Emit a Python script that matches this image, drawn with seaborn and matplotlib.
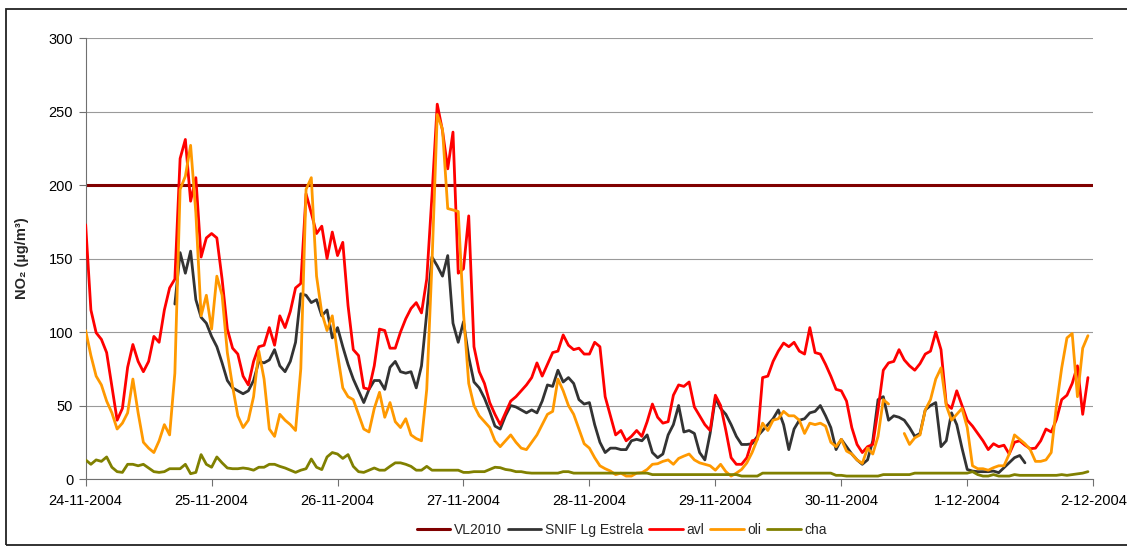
import numpy as np
import pandas as pd
import matplotlib
matplotlib.use('Agg')
import matplotlib.pyplot as plt
import matplotlib.patches as mpatches
from matplotlib.lines import Line2D
import seaborn as sns

nan = np.nan

# hourly NO2 values, 24-11-2004 00h .. 1-12-2004 23h
start = '2004-11-24 00:00'
end = '2004-12-02 00:00'
tick_labels = ['24-11-2004', '25-11-2004', '26-11-2004', '27-11-2004', '28-11-2004',
               '29-11-2004', '30-11-2004', '1-12-2004', '2-12-2004']

VL2010 = 200

snif = [nan, nan, nan, nan, nan, nan, nan, nan, nan, nan, nan, nan, nan, nan, nan, nan, nan,
        119, 154, 140, 155, 122, 110, 106,
        97, 90, 79, 67, 62, 60, 58, 60, 67, 80, 79, 81, 88, 77, 73, 80, 93, 126, 125, 120, 122, 111, 115, 96,
        103, 90, 78, 68, 60, 52, 61, 67, 67, 61, 76, 80, 73, 72, 73, 62, 77, 113, 151, 145, 138, 152, 106, 93,
        107, 83, 66, 62, 55, 46, 36, 34, 43, 50, 49, 47, 45, 47, 45, 53, 64, 63, 74, 66, 69, 65, 54, 51,
        52, 37, 25, 18, 21, 21, 20, 20, 26, 27, 26, 30, 18, 14.5, 17, 30, 37, 50, 32, 33, 31, 18, 13, 31,
        55, 48, 44, 37, 29, 23.5, 23.5, 24, 29, 33, 37, 41, 47, 37, 20, 34, 40, 41, 45, 46, 50, 43, 35, 20,
        27, 22, 17, 13, 10, 13, 26, 54, 56, 40, 43, 42, 40, 35, 29, 31, 47, 50, 52, 22, 26, 45, 37, 21,
        6.5, 5.4, 5, 5, 5, 5.4, 4.3, 7.7, 11, 14.5, 16, 11,
        nan, nan, nan, nan, nan, nan, nan, nan, nan, nan, nan, nan]

avl = [173, 115, 99.5, 95, 86, 63, 40, 48, 76, 91.5, 80, 73, 80, 97, 93, 115, 130, 136, 218, 231, 189, 205, 151, 164,
       167, 164, 136, 102, 89, 85, 70, 64, 80, 90, 91, 103, 91, 111, 103, 114, 130, 133, 194, 181, 167, 172, 150, 168,
       152, 161, 118, 88, 84, 62, 61, 77, 102, 101, 89, 89, 100, 109, 116, 120, 113, 136, 193, 255, 237, 211, 236, 140,
       143, 179, 90, 73, 65, 52, 44, 37, 45, 53, 56, 60, 64, 69, 79, 70, 78, 86, 87, 98, 91, 88, 89, 85,
       85, 93, 90, 56, 43, 30, 33, 26, 29, 33, 29, 39, 51, 42, 38, 39, 57, 64, 63, 66, 49, 43, 37, 33,
       57, 50, 33, 14.5, 10, 10, 14.5, 26, 27, 69, 70, 80, 87, 92.5, 90, 93, 87, 85, 103, 86, 85, 78, 70, 61,
       60, 53, 35, 23.5, 18, 22, 23.5, 47, 74, 79, 80, 88, 81, 77, 74, 78.5, 85, 87, 100, 88, 51, 48, 60, 50,
       40, 36, 31, 26, 20, 24, 22, 23, 17, 25, 26, 23, 20.6, 21, 26, 34, 32, 40.5, 54, 57, 65, 77, 44, 69]

oli = [101, 84, 70, 64, 53, 45, 34, 38, 45, 68, 45, 25, 21, 18, 26, 37, 30, 72, 197, 206, 227, 181, 111, 125,
       102, 138, 125, 86, 63, 43, 35, 40, 56, 87, 68, 34, 29, 44, 40, 37, 33, 75, 197, 205, 138, 113, 101, 111,
       85, 62, 56, 54, 44, 34, 32, 48, 59, 42, 52, 39, 35, 41, 30, 27.5, 26, 61, 147, 248, 238, 184, 183, 182,
       113, 65, 50, 43, 39, 35, 26, 22, 26, 30, 25, 21, 20, 25, 30, 37, 44, 46, 68, 60, 50, 44, 34, 24,
       21, 14.5, 9, 7, 5.4, 3, 4, 2, 2, 4, 4.3, 6.5, 10, 10.4, 12, 13, 10, 14, 15.6, 17, 13, 11, 10, 9,
       6, 10, 5, 2, 4, 6.5, 11, 18, 27, 38, 33, 40, 41, 46, 43, 43, 40, 31, 38, 37, 38, 36, 25, 22,
       27, 19, 17, 13, 10.6, 21, 17, 29, 54, 51, nan, nan, 31, 23.5, 28, 30, 47, 54, 68, 75.6, 50, 40, 44, 48,
       35, 9, 7, 7, 6, 7.7, 9, 9, 17, 30, 27, 24, 20, 12, 12, 13, 18, 50, 75.6, 96, 99, 56, 89, 97.5]

cha = [13, 10, 13, 12, 15, 8, 5, 4.5, 10, 10, 9, 10, 7.5, 5, 4.5, 5, 7, 7, 7, 10, 3.6, 4.5, 16.6, 10,
       8, 15, 11, 7.5, 7, 7, 7.5, 7, 6, 8, 8, 10, 10, 8.6, 7.5, 6, 4.5, 6, 7, 13.6, 8, 6.4, 15, 18,
       17, 14, 16.6, 8.6, 5, 4.5, 6, 7.5, 6, 6, 8.6, 11, 11, 10, 8.6, 6, 6, 8.6, 6, 6, 6, 6, 6, 6,
       4.5, 4.5, 5, 5, 5, 6.5, 8, 7.7, 6.5, 6, 5, 5, 4.3, 4, 4, 4, 4, 4, 4, 5, 5, 4, 4, 4,
       4, 4, 4, 4, 4, 4, 4, 4, 4, 4, 4, 4, 3, 3, 3, 3, 3, 3, 3, 3, 3, 3, 3, 3,
       3, 3, 3, 3, 3, 2, 2, 2, 2, 4, 4, 4, 4, 4, 4, 4, 4, 4, 4, 4, 4, 4, 4, 2.5,
       2.5, 2, 2, 2, 2, 2, 2, 2, 3, 3, 3, 3, 3, 3, 4, 4, 4, 4, 4, 4, 4, 4, 4, 4,
       4, 5, 3, 2, 2, 3, 2, 2, 2, 3, 2.5, 2.5, 2.5, 2.5, 2.5, 2.5, 2.5, 2.5, 3, 2.5, 3, 3.5, 4, 5]

names = ['SNIF Lg Estrela', 'avl', 'oli', 'cha']
colors = {'SNIF Lg Estrela': '#333333', 'avl': '#ff0000', 'oli': '#ff9900', 'cha': '#808000'}
vl_color = '#800000'

times = pd.date_range(start, periods=len(avl), freq='h')

# long table; 'seg' keeps gaps (NaN) as breaks in the lines
parts = []
for name, vals in zip(names, [snif, avl, oli, cha]):
    s = pd.Series(vals, dtype=float)
    seg = s.isna().cumsum().astype(str)
    parts.append(pd.DataFrame({'time': times, 'value': s.values, 'series': name,
                               'seg': name + '-' + seg}).dropna())
df = pd.concat(parts, ignore_index=True)

sns.set_style('ticks')
plt.rcParams['font.family'] = ['Liberation Sans', 'DejaVu Sans']

fig, ax = plt.subplots(figsize=(11.27, 5.47), dpi=100)
fig.subplots_adjust(left=0.076, right=0.970, top=0.9305, bottom=0.1243)

ax.axhline(VL2010, color=vl_color, lw=2.2, zorder=2)
sns.lineplot(data=df, x='time', y='value', hue='series', hue_order=names, units='seg',
             estimator=None, palette=colors, linewidth=2, legend=False, ax=ax, zorder=3)

ax.set_ylim(0, 300)
ax.set_yticks(range(0, 301, 50))
ax.set_xlim(pd.Timestamp(start), pd.Timestamp(end))
ax.set_xticks(pd.date_range(start, end, freq='D'))
ax.set_xticklabels(tick_labels)
ax.yaxis.grid(True, color='#9a9a9a', lw=0.8)
ax.set_axisbelow(True)

for side in ['top', 'right']:
    ax.spines[side].set_visible(False)
for side in ['left', 'bottom']:
    ax.spines[side].set_color('#707070')
    ax.spines[side].set_linewidth(0.8)
ax.tick_params(direction='out', length=5, width=0.8, color='#707070', labelsize=10.5,
               labelcolor='black', pad=4)
ax.tick_params(axis='x', pad=6)

ax.set_xlabel('')
ax.set_ylabel('NO₂ (µg/m³)', fontsize=10.5, fontweight='bold', labelpad=14)

handles = [Line2D([], [], color=vl_color, lw=2.2)] + [Line2D([], [], color=colors[n], lw=2) for n in names]
fig.legend(handles, ['VL2010'] + names, loc='center', bbox_to_anchor=(0.552, 0.031), ncol=5,
           frameon=False, fontsize=10, handlelength=2.4, handletextpad=0.3, columnspacing=0.4)

# outer chart frame (right edge falls outside the picture)
fig.patches.append(mpatches.Rectangle((0.0053, 0.0037), 1.0, 0.9798, transform=fig.transFigure,
                                      fill=False, edgecolor='#222222', lw=1.3))

fig.savefig('out.png', dpi=100)
